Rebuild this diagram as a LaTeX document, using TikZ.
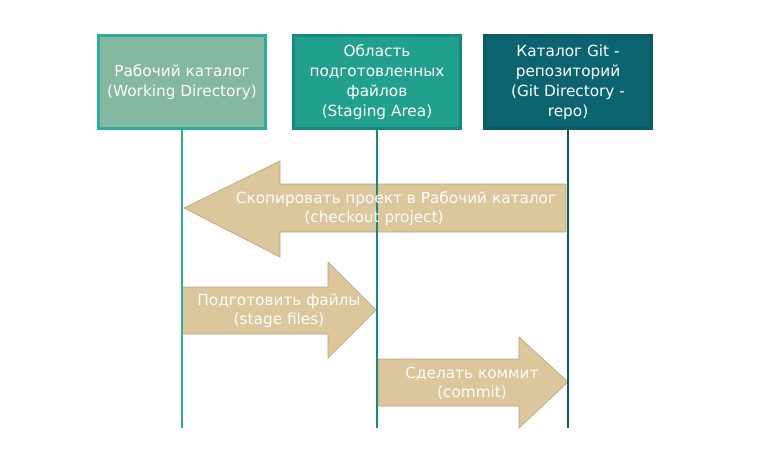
\documentclass[tikz,border=0pt]{standalone}
\usepackage{fontspec}
\setmainfont{DejaVu Sans}
\definecolor{bAfill}{HTML}{84B8A1}
\definecolor{bAdraw}{HTML}{2AAE9E}
\definecolor{bBfill}{HTML}{22A08E}
\definecolor{bBdraw}{HTML}{168A7C}
\definecolor{bCfill}{HTML}{0B6470}
\definecolor{bCdraw}{HTML}{0C5A62}
\definecolor{arrfill}{HTML}{DCC69C}
\definecolor{arrdraw}{HTML}{B5A27E}
\begin{document}
\begin{tikzpicture}[x=1pt,y=-1pt,
  boxst/.style={minimum width=167pt,minimum height=93pt,line width=2.5pt,text=white,align=center,font=\fontsize{15.3}{20}\selectfont,inner sep=0pt},
  lifeline/.style={line width=2.2pt},
  arrst/.style={fill=arrfill,draw=arrdraw,line width=0.6pt},
  lbl/.style={text=white,font=\fontsize{15.3}{19}\selectfont,align=center,inner sep=0pt}]
\useasboundingbox (0,0) rectangle (760,448);
\node[boxst,fill=bAfill,draw=bAdraw] (wd) at (182,82) {Рабочий каталог\\(Working Directory)};
\node[boxst,fill=bBfill,draw=bBdraw] (sa) at (377,82) {Область\\подготовленных\\файлов\\(Staging Area)};
\node[boxst,fill=bCfill,draw=bCdraw] (gd) at (568,82) {Каталог Git -\\репозиторий\\(Git Directory -\\repo)};
\coordinate (wdE) at (182,428);
\coordinate (saE) at (377,428);
\coordinate (gdE) at (568,428);
% arrows
\draw[arrst] (184,208) -- (280,161) -- (280,184) -- (566,184) -- (566,232) -- (280,232) -- (280,257) -- cycle;
\draw[arrst] (182,287) -- (328,287) -- (328,262) -- (376,310) -- (328,358) -- (328,334) -- (182,334) -- cycle;
\draw[arrst] (378,359) -- (519,359) -- (519,337) -- (568,382) -- (519,428) -- (519,406) -- (378,406) -- cycle;
% lifelines
\draw[lifeline,draw=bAdraw] (wd.south) -- (wdE);
\draw[lifeline,draw=bBdraw] (sa.south) -- (saE);
\draw[lifeline,draw=bCdraw] (gd.south) -- (gdE);
% labels
\node[lbl] (t1a) at (396,199) {Скопировать проект в Рабочий каталог};
\node[lbl] (t1b) at (374,218) {(checkout project)};
\node[lbl] (t2) at (279,311) {Подготовить файлы\\(stage files)};
\node[lbl] (t3) at (472,383) {Сделать коммит\\(commit)};
\end{tikzpicture}
\end{document}
